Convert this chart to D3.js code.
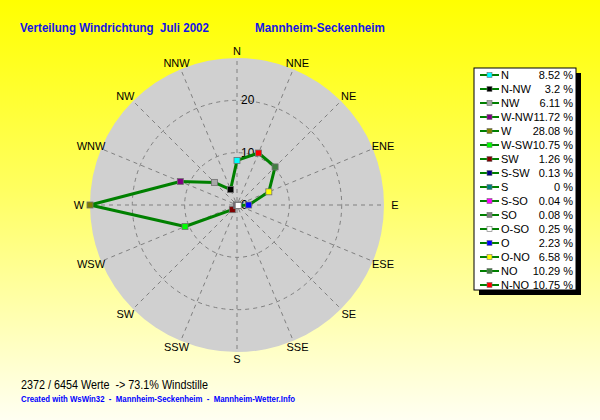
<!DOCTYPE html>
<html lang="de">
<head>
    <meta charset="UTF-8">
    <title>Verteilung Windrichtung Juli 2002</title>
    <script src="https://d3js.org/d3.v7.min.js"></script>
    <style>
        body {
            margin: 0;
            overflow: hidden;
            font-family: "Liberation Sans", Arial, sans-serif;
        }
        .spoke, .ring {
            stroke: #808080;
            stroke-width: 1px;
            stroke-dasharray: 4,4;
            fill: none;
        }
        .dirlabel {
            font-size: 11px;
            fill: #000;
        }
        .ringlabel {
            font-size: 12px;
            fill: #000;
        }
        .legend text {
            font-size: 11px;
            fill: #000;
        }
        .title {
            font-size: 13px;
            font-weight: bold;
            fill: #1414e6;
        }
    </style>
</head>
<body>
    <svg width="600" height="420"></svg>
    <script>
        // directions in plot order (counter-clockwise from N), as in the legend
        const directions = ["N", "N-NW", "NW", "W-NW", "W", "W-SW", "SW", "S-SW",
                            "S", "S-SO", "SO", "O-SO", "O", "O-NO", "NO", "N-NO"];
        const percents = [8.52, 3.2, 6.11, 11.72, 28.08, 10.75, 1.26, 0.13,
                          0, 0.04, 0.08, 0.25, 2.23, 6.58, 10.29, 10.75];
        const percentLabels = ["8.52", "3.2", "6.11", "11.72", "28.08", "10.75", "1.26", "0.13",
                               "0", "0.04", "0.08", "0.25", "2.23", "6.58", "10.29", "10.75"];
        const markerColors = ["#00ffff", "#000000", "#a8a8a8", "#800080", "#808000", "#00ff00", "#800000", "#000080",
                              "#008080", "#ff00ff", "#808080", "#ffffff", "#0000ff", "#ffff00", "#408040", "#ff0000"];
        // compass labels clockwise from N
        const compass = ["N", "NNE", "NE", "ENE", "E", "ESE", "SE", "SSE",
                         "S", "SSW", "SW", "WSW", "W", "WNW", "NW", "NNW"];
        const ringTicks = [10, 20];

        const svg = d3.select("svg");
        const cx = 237, cy = 205, R = 147;

        // background gradient
        const defs = svg.append("defs");
        const bg = defs.append("linearGradient")
            .attr("id", "bg").attr("x1", 0).attr("y1", 0).attr("x2", 0).attr("y2", 1);
        bg.append("stop").attr("offset", "0%").attr("stop-color", "#ffff00");
        bg.append("stop").attr("offset", "45%").attr("stop-color", "#ffff60");
        bg.append("stop").attr("offset", "100%").attr("stop-color", "#fffff2");
        svg.append("rect").attr("width", 600).attr("height", 420).attr("fill", "url(#bg)");

        const r = d3.scaleLinear().domain([0, d3.max(percents)]).range([0, R]);
        const step = 2 * Math.PI / 16;

        const g = svg.append("g").attr("transform", `translate(${cx},${cy})`);

        g.append("circle").attr("r", R).attr("fill", "#d0d0d0");

        // spokes
        g.selectAll(".spoke")
            .data(d3.range(16))
            .enter().append("line")
            .attr("class", "spoke")
            .attr("x1", d => Math.sin(d * step) * 4)
            .attr("y1", d => -Math.cos(d * step) * 4)
            .attr("x2", d => Math.sin(d * step) * R)
            .attr("y2", d => -Math.cos(d * step) * R);

        // rings
        g.selectAll(".ring")
            .data(ringTicks)
            .enter().append("circle")
            .attr("class", "ring")
            .attr("r", d => r(d));

        g.selectAll(".ringlabel")
            .data([0].concat(ringTicks))
            .enter().append("text")
            .attr("class", "ringlabel")
            .attr("x", 4)
            .attr("y", d => -r(d) + 4)
            .text(d => d);

        // compass labels
        g.selectAll(".dirlabel")
            .data(compass)
            .enter().append("text")
            .attr("class", "dirlabel")
            .attr("text-anchor", "middle")
            .attr("x", (d, i) => Math.sin(i * step) * 158)
            .attr("y", (d, i) => -Math.cos(i * step) * 154 + 4)
            .text(d => d);

        // data polygon (legend order goes counter-clockwise)
        const pts = percents.map((v, i) => [Math.sin(-i * step) * r(v), -Math.cos(-i * step) * r(v)]);

        g.append("path")
            .attr("d", d3.line().curve(d3.curveLinearClosed)(pts))
            .attr("fill", "none")
            .attr("stroke", "#008000")
            .attr("stroke-width", 3)
            .attr("stroke-linejoin", "round");

        g.selectAll(".marker")
            .data(pts)
            .enter().append("rect")
            .attr("class", "marker")
            .attr("x", d => d[0] - 3)
            .attr("y", d => d[1] - 3)
            .attr("width", 6)
            .attr("height", 6)
            .attr("fill", (d, i) => markerColors[i])
            .attr("stroke", "#707070")
            .attr("stroke-width", 0.8);

        // legend
        const lg = svg.append("g").attr("class", "legend");
        lg.append("rect").attr("x", 479).attr("y", 73).attr("width", 102).attr("height", 222).attr("fill", "#000");
        lg.append("rect").attr("x", 474).attr("y", 68).attr("width", 102).attr("height", 222)
            .attr("fill", "#fff").attr("stroke", "#000").attr("stroke-width", 1);

        const rowY = d3.scalePoint().domain(directions).range([75, 285]);
        const row = lg.selectAll(".row")
            .data(directions)
            .enter().append("g")
            .attr("transform", d => `translate(0,${rowY(d)})`);
        row.append("line")
            .attr("x1", 480).attr("x2", 499)
            .attr("stroke", "#008000").attr("stroke-width", 2);
        row.append("rect")
            .attr("x", 487).attr("y", -2.5).attr("width", 5).attr("height", 5)
            .attr("fill", (d, i) => markerColors[i])
            .attr("stroke", "#707070").attr("stroke-width", 0.6);
        row.append("text")
            .attr("x", 501).attr("y", 4)
            .text(d => d);
        row.append("text")
            .attr("x", 573).attr("y", 4)
            .attr("text-anchor", "end")
            .text((d, i) => percentLabels[i] + " %");

        // titles and footer
        svg.append("text").attr("class", "title").attr("x", 20).attr("y", 32)
            .attr("textLength", 189).attr("lengthAdjust", "spacingAndGlyphs")
            .text("Verteilung Windrichtung\u00a0\u00a0Juli 2002");
        svg.append("text").attr("class", "title").attr("x", 255).attr("y", 32)
            .attr("textLength", 130).attr("lengthAdjust", "spacingAndGlyphs")
            .text("Mannheim-Seckenheim");
        svg.append("text").attr("x", 21).attr("y", 389)
            .style("font-size", "12px").attr("fill", "#000")
            .attr("textLength", 187).attr("lengthAdjust", "spacingAndGlyphs")
            .text("2372 / 6454 Werte\u00a0\u00a0-> 73.1% Windstille");
        svg.append("text").attr("x", 21).attr("y", 402)
            .style("font-size", "9px").style("font-weight", "bold").attr("fill", "#0000ff")
            .attr("textLength", 274).attr("lengthAdjust", "spacingAndGlyphs")
            .text("Created with WsWin32\u00a0\u00a0-\u00a0\u00a0Mannheim-Seckenheim\u00a0\u00a0-\u00a0\u00a0Mannheim-Wetter.Info");
    </script>
</body>
</html>
